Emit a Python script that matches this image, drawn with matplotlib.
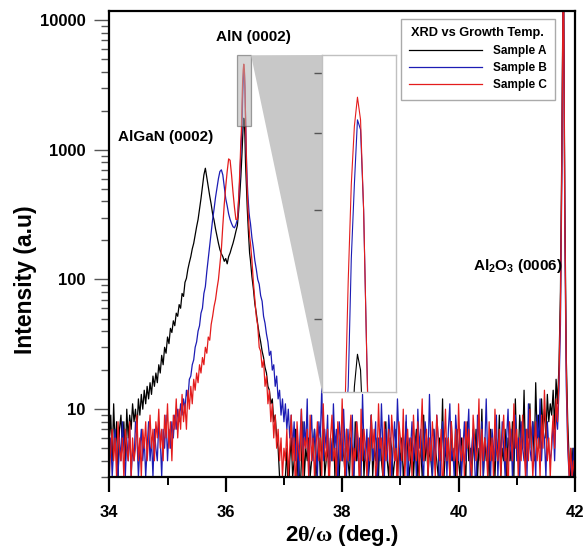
import numpy as np
import matplotlib
matplotlib.use("Agg")
import matplotlib.pyplot as plt
from matplotlib.patches import Rectangle, Polygon
from matplotlib.ticker import FixedLocator, FixedFormatter, LogLocator, NullFormatter, NullLocator

plt.rcParams['font.family'] = ['Liberation Sans', 'DejaVu Sans']
plt.rcParams['font.weight'] = 'bold'
plt.rcParams['mathtext.fontset'] = 'custom'
plt.rcParams['mathtext.rm'] = 'Liberation Serif'
plt.rcParams['mathtext.it'] = 'Liberation Serif:italic'
plt.rcParams['mathtext.bf'] = 'Liberation Sans:bold'

# ---------------- data ----------------
# scan grid (2theta/omega, deg): coarse before the AlN peak, fine across it, coarse after
grid_a = np.round(np.linspace(34.0, 36.175, 88), 3)
grid_p = np.round(np.linspace(36.20, 36.41, 22), 3)
grid_b = np.round(np.linspace(36.425, 42.0, 224), 3)
two_theta = np.concatenate([grid_a, grid_p, grid_b])

# Sample A (black)
a_rise = [6, 9, 4, 11, 5, 8, 3, 7, 9, 5,
          8, 4, 10, 6, 9, 7, 11, 8, 10, 7,
          12, 9, 13, 10, 14, 11, 15, 12, 16, 13,
          18, 15, 19, 16, 22, 19, 26, 22, 30, 27,
          36, 32, 42, 39, 48, 44, 55, 52, 64, 60,
          78, 74, 95, 102, 120, 135, 150, 172, 190, 220,
          255, 290, 350, 420, 520, 640, 720, 610, 520, 440,
          380, 320, 285, 245, 215, 190, 170, 158, 150, 138,
          145, 132, 150, 160, 175, 190, 210, 235]
a_aln = [260, 290, 330, 380, 440, 520, 620, 760, 950, 1200,
         1550, 1750, 1650, 1250, 800, 600, 450, 350, 280, 230,
         190, 160]
a_tail = [140, 105, 85, 65, 55, 45, 38, 33, 28, 25,
          21, 19, 15, 14, 11, 12, 8, 9, 6, 5,
          3, 2, 3, 2]
a_floor = [3, 5, 2, 4, 6, 3, 4, 7, 3, 5, 2, 4, 8, 3, 5, 4, 6, 3, 4, 5,
           7, 3, 4, 6, 3, 5, 9, 3, 4, 5, 3, 6, 4, 8, 3, 5, 4, 3, 6, 4,
           5, 3, 7, 4, 3, 6, 5, 3, 8, 4, 5, 3, 4, 7, 3, 5, 6, 3, 4, 9,
           3, 5, 4, 6, 3, 7, 4, 3, 5, 8, 4, 3, 6, 5, 3, 4, 7, 3, 5, 4,
           6, 3, 4, 8, 5, 3, 4, 6, 3, 5, 7, 3, 4, 5, 3, 9, 4, 6, 3, 5,
           4, 3, 7, 5, 4, 3, 6, 4, 12, 3, 5, 4, 6, 3, 8, 4, 5, 3, 7, 4,
           3, 6, 5, 4, 3, 8, 4, 5, 3, 6, 4, 7, 3, 5, 4, 10, 3, 6, 4, 5,
           3, 7, 4, 5, 3, 6, 4, 9, 3, 5, 4, 7, 3, 6, 5, 4, 8, 3, 12, 5,
           4, 9, 6, 5, 14, 4, 7, 6, 11, 5, 8, 4, 16, 6, 9, 5, 12, 7, 10, 6,
           13, 8, 11]
a_sub = [9, 14, 7, 17, 11, 22, 80, 1200, 40000, 400, 25, 8, 4, 3, 5, 3, 4]

# Sample B (blue)
b_rise = [4, 6, 3, 5, 7, 4, 3, 6, 4, 8,
          5, 3, 6, 4, 7, 3, 5, 4, 8, 6,
          3, 5, 7, 4, 6, 3, 5, 8, 4, 6,
          3, 7, 5, 4, 8, 6, 3, 7, 5, 9,
          4, 7, 5, 8, 6, 9, 7, 10, 8, 11,
          9, 12, 10, 14, 12, 17, 18, 22, 24, 30,
          33, 40, 44, 55, 60, 78, 88, 115, 145, 180,
          230, 290, 350, 430, 510, 600, 680, 700, 640, 520,
          420, 370, 320, 290, 270, 255, 250, 265]
b_aln = [290, 330, 390, 470, 580, 750, 980, 1300, 1550, 2500,
         3300, 4200, 4050, 3000, 1750, 1100, 750, 560, 450, 380,
         330, 300]
b_tail = [270, 210, 175, 140, 120, 100, 92, 75, 68, 52,
          46, 38, 33, 26, 28, 20, 22, 15, 18, 12,
          14, 9, 12, 8, 11, 7, 10, 6, 9, 5,
          8, 4]
b_floor = [7, 3, 6, 10, 4, 8, 5, 12, 3, 6, 9, 4, 7, 5, 3, 8, 6, 15, 4, 7,
           5, 9, 3, 6, 4, 11, 5, 7, 2, 8, 6, 4, 10, 5, 3, 7, 4, 6, 9, 3,
           5, 8, 4, 6, 3, 13, 5, 4, 7, 3, 6, 9, 4, 5, 8, 2, 6, 4, 11, 5,
           3, 7, 4, 9, 6, 3, 5, 8, 4, 12, 6, 3, 5, 7, 4, 9, 2, 6, 5, 8,
           4, 6, 3, 10, 5, 7, 4, 3, 8, 6, 4, 13, 5, 3, 7, 4, 9, 6, 2, 5,
           8, 4, 6, 3, 7, 11, 4, 5, 3, 9, 6, 4, 7, 3, 5, 8, 4, 6, 10, 3,
           5, 7, 4, 2, 9, 6, 4, 8, 3, 5, 12, 4, 6, 3, 7, 5, 4, 9, 3, 6,
           4, 8, 5, 3, 6, 10, 4, 7, 3, 5, 9, 4, 6, 3, 8, 5, 4, 7, 3, 11,
           5, 4, 8, 6, 3, 9, 5, 12, 4, 7, 6, 3, 8, 5, 4]
b_sub = [5, 8, 4, 10, 7, 14, 45, 700, 40000, 250, 15, 5, 3, 4, 3, 5, 2]

# Sample C (red)
c_rise = [3, 5, 7, 4, 6, 3, 8, 5, 4, 6,
          3, 7, 5, 4, 8, 3, 6, 4, 5, 9,
          4, 6, 3, 7, 5, 8, 4, 6, 9, 5,
          7, 4, 8, 6, 10, 5, 7, 4, 9, 6,
          11, 5, 8, 4, 9, 7, 12, 6, 10, 7,
          13, 8, 11, 7, 14, 10, 15, 11, 17, 14,
          19, 16, 22, 19, 25, 22, 30, 27, 36, 34,
          45, 52, 62, 70, 85, 100, 130, 170, 260, 380,
          520, 680, 850, 830, 640, 470, 360, 290]
c_aln = [290, 330, 400, 500, 640, 850, 1150, 1450, 2300, 3300,
         4100, 4570, 4200, 3000, 1750, 1000, 650, 470, 360, 300,
         250, 215]
c_tail = [190, 140, 95, 70, 52, 44, 30, 28, 21, 24,
          15, 18, 11, 14, 8, 11, 6, 9, 5, 7,
          4, 6, 3, 5]
c_floor = [4, 7, 3, 5, 9, 4, 6, 2, 8, 5, 4, 10, 3, 6, 5, 7, 3, 9, 4, 6,
           3, 5, 8, 4, 6, 3, 11, 5, 4, 7, 2, 6, 9, 4, 5, 3, 8, 6, 4, 12,
           5, 3, 7, 4, 6, 9, 3, 5, 4, 8, 6, 2, 10, 4, 7, 5, 3, 6, 4, 9,
           5, 7, 3, 4, 11, 5, 6, 3, 8, 4, 5, 7, 3, 9, 6, 4, 5, 2, 8, 6,
           4, 10, 3, 5, 7, 4, 6, 3, 9, 5, 4, 8, 3, 6, 12, 4, 5, 7, 3, 6,
           4, 8, 5, 3, 9, 6, 4, 7, 2, 5, 10, 4, 6, 3, 8, 5, 4, 7, 3, 11,
           5, 4, 6, 3, 8, 5, 7, 4, 3, 9, 6, 4, 5, 12, 3, 7, 4, 6, 5, 3,
           8, 4, 6, 3, 10, 5, 4, 7, 3, 6, 9, 4, 5, 2, 8, 6, 4, 11, 5, 7,
           3, 6, 4, 9, 5, 3, 7, 4, 10, 6, 3, 5, 8, 4, 6, 3, 9, 5, 14, 7,
           4, 6, 3]
c_sub = [6, 9, 5, 12, 8, 18, 60, 900, 40000, 300, 20, 6, 3, 5, 3, 4, 3]

sample_a = np.array(a_rise + a_aln + a_tail + a_floor + a_sub, dtype=float)
sample_b = np.array(b_rise + b_aln + b_tail + b_floor + b_sub, dtype=float)
sample_c = np.array(c_rise + c_aln + c_tail + c_floor + c_sub, dtype=float)

series_labels = ['Sample A', 'Sample B', 'Sample C']
series_colors = ['#000000', '#1c1cb4', '#e41c1c']
series_values = [sample_a, sample_b, sample_c]

x_ticks = [34, 36, 38, 40, 42]
y_ticks = [10, 100, 1000, 10000]
y_ticklabels = ['10', '100', '1000', '10000']
inset_yticks = [2000, 3000, 4000, 5000]

zoom_x = (36.195, 36.435)
zoom_y = (1520, 5350)

# ---------------- figure ----------------
W, H = 585, 551
fig = plt.figure(figsize=(W / 100, H / 100), dpi=100)

def px_box(l, t, r, b):
    return [l / W, 1 - b / H, (r - l) / W, (b - t) / H]

ax = fig.add_axes(px_box(109.3, 10.7, 575, 477))
for x_vals, col, lab in zip(series_values, series_colors, series_labels):
    ax.plot(two_theta, x_vals, color=col, lw=0.9, label=lab)

ax.set_yscale('log')
ax.set_xlim(34, 42)
ax.set_ylim(3, 11800)

ax.xaxis.set_major_locator(FixedLocator(x_ticks))
ax.xaxis.set_minor_locator(FixedLocator([35, 37, 39, 41]))
ax.yaxis.set_major_locator(FixedLocator(y_ticks))
ax.yaxis.set_major_formatter(FixedFormatter(y_ticklabels))
ax.yaxis.set_minor_locator(LogLocator(base=10, subs=np.arange(2, 10)))
ax.yaxis.set_minor_formatter(NullFormatter())

ax.tick_params(axis='x', which='major', direction='out', length=11, width=1.6,
               labelsize=12, pad=9, colors='black')
ax.tick_params(axis='x', which='minor', direction='out', length=6, width=1.4)
ax.tick_params(axis='y', which='major', direction='out', length=11, width=1.0,
               labelsize=12, pad=6, color='#555555')
ax.tick_params(axis='y', which='minor', direction='out', length=5.5, width=1.0,
               color='#555555')
for lab in ax.get_xticklabels() + ax.get_yticklabels():
    lab.set_fontweight('bold')
for sp in ax.spines.values():
    sp.set_linewidth(1.6)
    sp.set_color('black')

fig.text(342 / W, 1 - 536 / H, r'2$\mathrm{\theta/\omega}$ (deg.)', ha='center', va='center',
         fontsize=16, fontweight='bold')
fig.text(26 / W, 1 - 280 / H, 'Intensity (a.u)', ha='center', va='center', rotation=90,
         fontsize=16.5, fontweight='bold')

ax.text(0.3086, 0.9436, 'AlN (0002)', transform=ax.transAxes, ha='center', va='center',
        fontsize=11, fontweight='bold')
ax.text(0.1207, 0.7291, 'AlGaN (0002)', transform=ax.transAxes, ha='center', va='center',
        fontsize=11, fontweight='bold')
ax.text(0.878, 0.4525, r'Al$_\mathbf{2}$O$_\mathbf{3}$ (0006)', transform=ax.transAxes,
        ha='center', va='center', fontsize=11, fontweight='bold')

leg = ax.legend(loc='upper right', bbox_to_anchor=(0.957, 0.982), borderaxespad=0,
                title='XRD vs Growth Temp.', handlelength=6.2, handletextpad=0.9,
                labelspacing=0.45, borderpad=0.7, fancybox=False, framealpha=1,
                prop={'weight': 'bold', 'size': 8.5},
                title_fontproperties={'weight': 'bold', 'size': 9.2})
leg.get_frame().set_edgecolor('#aaaaaa')
leg.get_frame().set_linewidth(1.0)

# zoom rectangle on main axes
ax.add_patch(Rectangle((zoom_x[0], zoom_y[0]), zoom_x[1] - zoom_x[0], zoom_y[1] - zoom_y[0],
                       facecolor='#b4b4b4', alpha=0.55, edgecolor='#555555', lw=0.9, zorder=4))

# inset
axin = fig.add_axes(px_box(322, 55, 396, 392), zorder=3)
for x_vals, col in zip(series_values, series_colors):
    axin.plot(two_theta, x_vals, color=col, lw=0.8)
axin.set_yscale('log')
axin.set_xlim(*zoom_x)
axin.set_ylim(*zoom_y)
axin.xaxis.set_major_locator(NullLocator())
axin.xaxis.set_minor_locator(NullLocator())
axin.yaxis.set_major_locator(FixedLocator(inset_yticks))
axin.yaxis.set_minor_locator(NullLocator())
axin.yaxis.set_major_formatter(NullFormatter())
axin.tick_params(axis='y', which='major', direction='out', length=5.5, width=1.0,
                 color='#555555', left=True)
for sp in axin.spines.values():
    sp.set_color('#c0c0c0')
    sp.set_linewidth(1.0)

# connector triangle from zoom box to inset
p_box = ax.transData.transform((zoom_x[1], zoom_y[1]))
p_top = axin.transAxes.transform((0, 1))
p_bot = axin.transAxes.transform((0, 0))
inv = fig.transFigure.inverted()
tri = Polygon(inv.transform(np.array([p_box, p_top, p_bot])), closed=True,
              facecolor='#c8c8c8', edgecolor='none', transform=fig.transFigure, zorder=2)
fig.add_artist(tri)

fig.savefig('out.png', dpi=100)
